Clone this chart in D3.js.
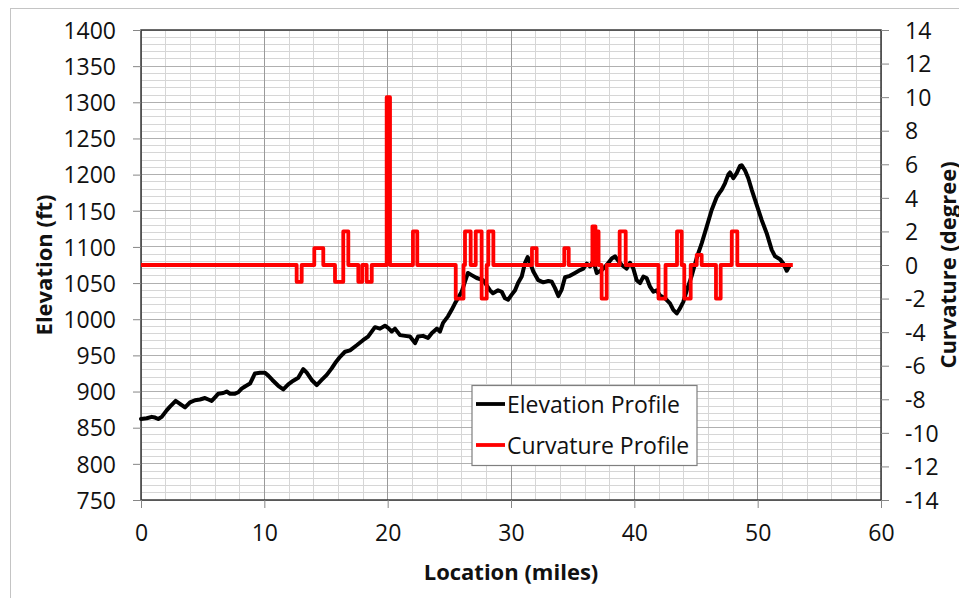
<!DOCTYPE html>
<html><head><meta charset="utf-8">
<script src="https://cdn.jsdelivr.net/npm/d3@7"></script>
<style>
body{margin:0;background:#fff;}
svg text{font-family:"Open Sans",sans-serif;fill:#111;}
</style>
</head><body>
<svg id="chart" width="959" height="598"></svg>
<script>
// ---- data ----
const elevLocation = [0.0,0.46,0.87,1.14,1.40,1.68,2.08,2.35,2.81,3.16,
3.57,3.97,4.38,4.78,5.19,5.46,5.73,6.00,6.27,6.67,
6.95,7.22,7.62,7.89,8.16,8.43,8.84,9.24,9.65,10.05,
10.32,10.65,11.13,11.54,11.94,12.35,12.75,13.16,13.44,13.84,
14.25,14.65,15.06,15.46,15.73,16.14,16.54,16.95,17.49,18.00,
18.41,18.97,19.38,19.78,20.03,20.33,20.59,21.00,21.41,21.81,
22.22,22.46,22.87,23.27,23.59,24.00,24.24,24.49,24.89,25.19,
25.46,25.70,26.00,26.27,26.51,26.81,27.22,27.73,28.03,28.30,
28.54,28.95,29.25,29.51,29.76,30.06,30.33,30.57,30.87,31.14,
31.35,31.57,31.81,32.21,32.62,33.03,33.30,33.57,33.84,34.11,
34.38,34.78,35.19,35.60,35.86,36.14,36.41,36.68,36.95,37.36,
37.76,38.17,38.43,38.70,38.98,39.38,39.65,39.92,40.19,40.46,
40.73,41.00,41.27,41.54,41.81,42.08,42.49,42.89,43.16,43.44,
43.70,43.97,44.25,44.65,45.06,45.46,45.87,46.27,46.68,46.95,
47.08,47.35,47.62,47.76,48.03,48.30,48.57,48.70,48.97,49.24,
49.52,49.92,50.33,50.73,51.14,51.41,51.81,52.08,52.36,52.62];
const elevation = [862,863,865,864,862,865,874,879,887,883,
878,885,888,889,891,889,887,892,897,898,
900,897,897,899,904,907,911,925,926,926,
922,916,908,903,910,915,919,931,926,916,
909,916,923,932,939,948,955,957,964,971,
976,989,987,991,988,983,987,978,977,976,
967,976,977,974,981,987,983,995,1004,1013,
1022,1029,1038,1052,1064,1061,1057,1054,1047,1040,
1036,1040,1038,1029,1027,1034,1040,1050,1059,1078,
1086,1077,1066,1054,1051,1053,1052,1043,1032,1041,
1058,1060,1064,1068,1070,1077,1073,1081,1064,1068,
1075,1084,1087,1081,1075,1070,1078,1070,1054,1050,
1059,1057,1045,1038,1040,1033,1029,1022,1013,1008,
1015,1024,1040,1060,1085,1105,1128,1151,1169,1176,
1179,1188,1200,1203,1195,1202,1212,1213,1206,1195,
1179,1158,1137,1119,1096,1087,1083,1077,1067,1075];

// curvature: step pulses (start mile, end mile, degree)
const curvStart = [12.62,14.05,15.73,16.40,17.62,18.30,19.92,22.05,25.52,26.27,27.14,27.62,28.16,31.70,34.32,36.60,36.85,37.35,38.81,41.96,43.46,44.05,45.06,46.62,47.90];
const curvEnd   = [13.03,14.78,16.40,16.81,17.94,18.71,20.19,22.40,26.15,26.73,27.62,28.03,28.57,32.08,34.68,36.85,37.10,37.76,39.30,42.53,43.84,44.57,45.46,47.00,48.35];
const curvValue = [-1,1,-1,2,-1,-1,10,2,-2,2,2,-2,2,1,1,2.3,2,-2,2,-2,2,-2,0.6,-2,2];
const curvFirst = 0, curvLast = 52.85;

const xTickValues = [0,10,20,30,40,50,60];
const elevTickValues = [750,800,850,900,950,1000,1050,1100,1150,1200,1250,1300,1350,1400];
const curvTickValues = [-14,-12,-10,-8,-6,-4,-2,0,2,4,6,8,10,12,14];

const seriesNames = ["Elevation Profile","Curvature Profile"];
const seriesColors = ["#000000","#ff0000"];

// ---- layout ----
const L = 141, R = 881, T = 30, B = 500;
const svg = d3.select("#chart");

const x = d3.scaleLinear().domain([0,60]).range([L,R]);
const yL = d3.scaleLinear().domain([750,1400]).range([B,T]);
const yR = d3.scaleLinear().domain([-14,14]).range([B,T]);

// outer chart border
svg.append("rect").attr("x",10.5).attr("y",8.5).attr("width",1000).attr("height",1000)
  .attr("fill","none").attr("stroke","#c4c4c4").attr("stroke-width",1);

// grid
const grid = svg.append("g").attr("shape-rendering","crispEdges");
grid.selectAll(".vmin").data(d3.range(0,61,2).filter(d=>d%10!==0)).join("line")
  .attr("x1",d=>x(d)).attr("x2",d=>x(d)).attr("y1",T).attr("y2",B)
  .attr("stroke","#d6d6d6").attr("stroke-width",1);
grid.selectAll(".hmin").data(d3.range(750,1401,10).filter(d=>d%50!==0)).join("line")
  .attr("x1",L).attr("x2",R).attr("y1",d=>yL(d)).attr("y2",d=>yL(d))
  .attr("stroke","#d6d6d6").attr("stroke-width",1);
grid.selectAll(".vmaj").data(xTickValues).join("line")
  .attr("x1",d=>x(d)).attr("x2",d=>x(d)).attr("y1",T).attr("y2",B)
  .attr("stroke","#9a9a9a").attr("stroke-width",1);
grid.selectAll(".hmaj").data(elevTickValues).join("line")
  .attr("x1",L).attr("x2",R).attr("y1",d=>yL(d)).attr("y2",d=>yL(d))
  .attr("stroke","#b0b0b0").attr("stroke-width",1);

// plot border
svg.append("rect").attr("x",L).attr("y",T).attr("width",R-L).attr("height",B-T)
  .attr("fill","none").attr("stroke","#3a3a3a").attr("stroke-width",1.5);

// axes
function styleAxis(g){
  g.select(".domain").remove();
  g.selectAll(".tick line").attr("stroke","#868686");
  g.selectAll(".tick text").attr("font-size",23).attr("font-family","'Open Sans',sans-serif").attr("fill","#111");
}
const plain = d => String(d);
svg.append("g").attr("transform",`translate(${L},0)`)
  .call(d3.axisLeft(yL).tickValues(elevTickValues).tickSize(8).tickPadding(17).tickFormat(plain))
  .call(styleAxis).call(g=>g.selectAll(".tick text").attr("dy","0.36em"));
svg.append("g").attr("transform",`translate(${R},0)`)
  .call(d3.axisRight(yR).tickValues(curvTickValues).tickSize(8).tickPadding(16).tickFormat(plain))
  .call(styleAxis).call(g=>g.selectAll(".tick text").attr("dy","0.36em"));
svg.append("g").attr("transform",`translate(0,${B})`)
  .call(d3.axisBottom(x).tickValues(xTickValues).tickSize(8).tickPadding(17).tickFormat(plain))
  .call(styleAxis);

// axis titles
svg.append("text").attr("transform",`translate(${(L+R)/2},580)`).attr("text-anchor","middle")
  .attr("font-size",22).attr("font-weight","bold").text("Location (miles)");
svg.append("text").attr("transform",`translate(52,${(T+B)/2}) rotate(-90)`).attr("text-anchor","middle")
  .attr("font-size",22).attr("font-weight","bold").text("Elevation (ft)");
svg.append("text").attr("transform",`translate(956,${(T+B)/2}) rotate(-90)`).attr("text-anchor","middle")
  .attr("font-size",22).attr("font-weight","bold").text("Curvature (degree)");

// elevation line
const elevData = elevLocation.map((d,i)=>[d,elevation[i]]);
svg.append("path").datum(elevData)
  .attr("d",d3.line().x(d=>x(d[0])).y(d=>yL(d[1])))
  .attr("fill","none").attr("stroke",seriesColors[0]).attr("stroke-width",4)
  .attr("stroke-linejoin","round").attr("stroke-linecap","round");

// curvature step line
const curvData = [[curvFirst,0]];
curvStart.forEach((s,i)=>{
  curvData.push([s,0],[s,curvValue[i]],[curvEnd[i],curvValue[i]],[curvEnd[i],0]);
});
curvData.push([curvLast,0]);
svg.append("path").datum(curvData)
  .attr("d",d3.line().x(d=>x(d[0])).y(d=>yR(d[1])))
  .attr("fill","none").attr("stroke",seriesColors[1]).attr("stroke-width",3.8)
  .attr("stroke-linejoin","round").attr("stroke-linecap","butt");

// legend
const lg = svg.append("g");
lg.append("rect").attr("x",472).attr("y",385.5).attr("width",225).attr("height",80)
  .attr("fill","#fff").attr("stroke","#7f7f7f").attr("stroke-width",1.2);
seriesNames.forEach((n,i)=>{
  const yy = 404 + i*41;
  lg.append("line").attr("x1",476).attr("x2",505).attr("y1",yy).attr("y2",yy)
    .attr("stroke",seriesColors[i]).attr("stroke-width",3.8);
  lg.append("text").attr("x",507).attr("y",yy+8.5).attr("font-size",23).text(n);
});
</script>
</body></html>
